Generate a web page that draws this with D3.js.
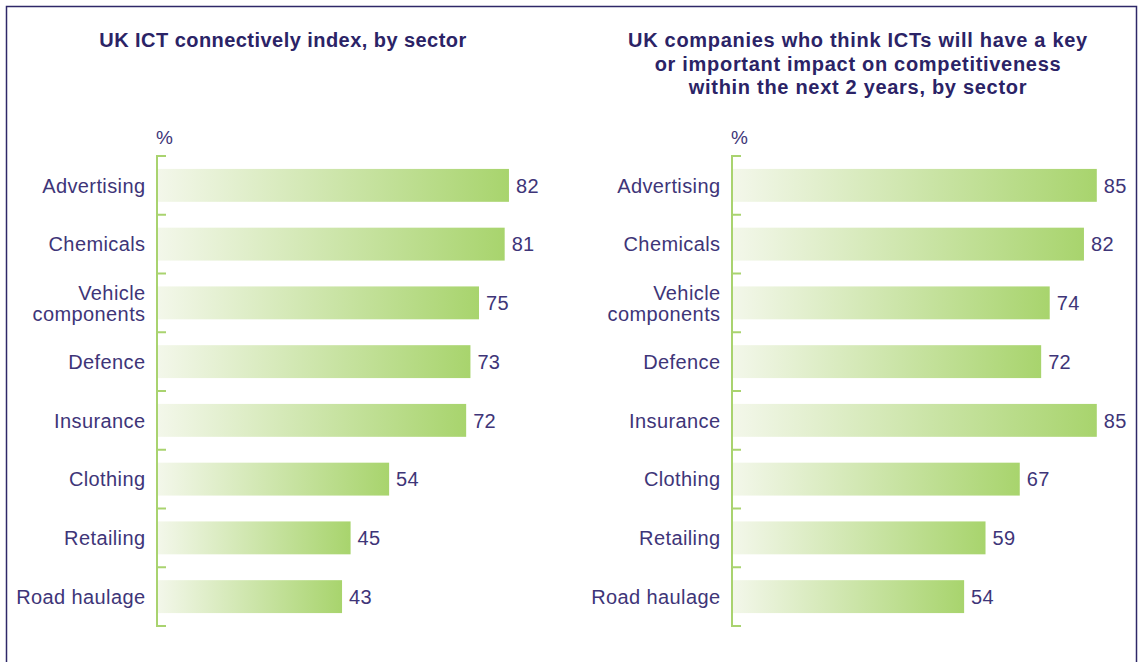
<!DOCTYPE html>
<html>
<head>
<meta charset="utf-8">
<script src="https://cdn.jsdelivr.net/npm/d3@7/dist/d3.min.js"></script>
<style>
  html, body { margin: 0; padding: 0; background: #fff; }
  svg { display: block; }
  text { font-family: "Liberation Sans", Arial, sans-serif; }
</style>
</head>
<body>
<svg id="chart" width="1141" height="662"></svg>
<script>
const categories = ["Advertising", "Chemicals", "Vehicle components", "Defence", "Insurance", "Clothing", "Retailing", "Road haulage"];
const connectivityIndex = [82, 81, 75, 73, 72, 54, 45, 43];
const competitivenessImpact = [85, 82, 74, 72, 85, 67, 59, 54];
const leftTitle = ["UK ICT connectively index, by sector"];
const rightTitle = ["UK companies who think ICTs will have a key", "or important impact on competitiveness", "within the next 2 years, by sector"];
const unitLabel = "%";

const svg = d3.select("#chart");
const textColor = "#3e3578";
const titleColor = "#2b2366";
const axisColor = "#a9d36f";

// gradient
const defs = svg.append("defs");
const grad = defs.append("linearGradient").attr("id", "barGrad")
  .attr("x1", "0%").attr("x2", "100%").attr("y1", "0%").attr("y2", "0%");
grad.append("stop").attr("offset", "0%").attr("stop-color", "#f3f7ea");
grad.append("stop").attr("offset", "100%").attr("stop-color", "#a8d46d");

// border
svg.append("rect").attr("x", 6.5).attr("y", 6.5).attr("width", 1130).attr("height", 700)
  .attr("fill", "none").attr("stroke", "#2e2868").attr("stroke-width", 1.5);

function panel(opts) {
  const g = svg.append("g");
  const x = d3.scaleLinear().domain([0, 100]).range([opts.x0, opts.x0 + 428]);
  const y = d3.scaleBand().domain(categories).range([156, 626]).paddingInner(0.44).paddingOuter(0.22);
  const step = y.step();
  const top = y.range()[0];

  // title
  const t = g.append("text").attr("x", opts.titleX).attr("y", 47)
    .attr("text-anchor", "middle").attr("fill", titleColor)
    .style("font-weight", "bold").style("font-size", "20px").style("letter-spacing", opts.titleSpacing);
  opts.title.forEach((line, i) => {
    t.append("tspan").attr("x", opts.titleX).attr("dy", i === 0 ? 0 : 23.5).text(line);
  });

  // % label
  g.append("text").attr("x", opts.x0 - 2).attr("y", 144).attr("fill", textColor)
    .style("font-size", "19px").text(unitLabel);

  // bars
  g.selectAll("rect.bar").data(categories).join("rect").attr("class", "bar")
    .attr("x", x(0)).attr("y", d => y(d))
    .attr("width", (d, i) => x(opts.values[i]) - x(0))
    .attr("height", y.bandwidth())
    .attr("fill", "url(#barGrad)");

  // value labels
  g.selectAll("text.val").data(categories).join("text").attr("class", "val")
    .attr("x", (d, i) => x(opts.values[i]) + 7)
    .attr("y", d => y(d) + y.bandwidth() / 2)
    .attr("dy", "0.36em").attr("fill", textColor)
    .style("font-size", "20px").style("letter-spacing", "0.3px")
    .text((d, i) => opts.values[i]);

  // category labels
  g.selectAll("text.cat").data(categories).join("text").attr("class", "cat")
    .attr("text-anchor", "end").attr("fill", textColor)
    .style("font-size", "20px").style("letter-spacing", "0.4px")
    .each(function(d) {
      const el = d3.select(this);
      const cy = y(d) + y.bandwidth() / 2;
      const words = d === "Vehicle components" ? ["Vehicle", "components"] : [d];
      words.forEach((w, i) => {
        el.append("tspan").attr("x", opts.labelX)
          .attr("y", cy + (i - (words.length - 1) / 2) * 21)
          .attr("dy", "0.36em").text(w);
      });
    });

  // axis
  const ax = opts.x0 - 1;
  g.append("line").attr("x1", ax).attr("x2", ax).attr("y1", top).attr("y2", top + step * categories.length)
    .attr("stroke", axisColor).attr("stroke-width", 2);
  const ticks = d3.range(categories.length + 1).map(i => top + i * step);
  g.selectAll("line.tick").data(ticks).join("line").attr("class", "tick")
    .attr("x1", ax - 1).attr("x2", ax + 9).attr("y1", d => d).attr("y2", d => d)
    .attr("stroke", axisColor).attr("stroke-width", 2);
}

panel({ x0: 158, values: connectivityIndex, title: leftTitle, titleX: 283, labelX: 145.5, titleSpacing: "0.45px" });
panel({ x0: 733, values: competitivenessImpact, title: rightTitle, titleX: 858, labelX: 720.5, titleSpacing: "0.7px" });
</script>
</body>
</html>
